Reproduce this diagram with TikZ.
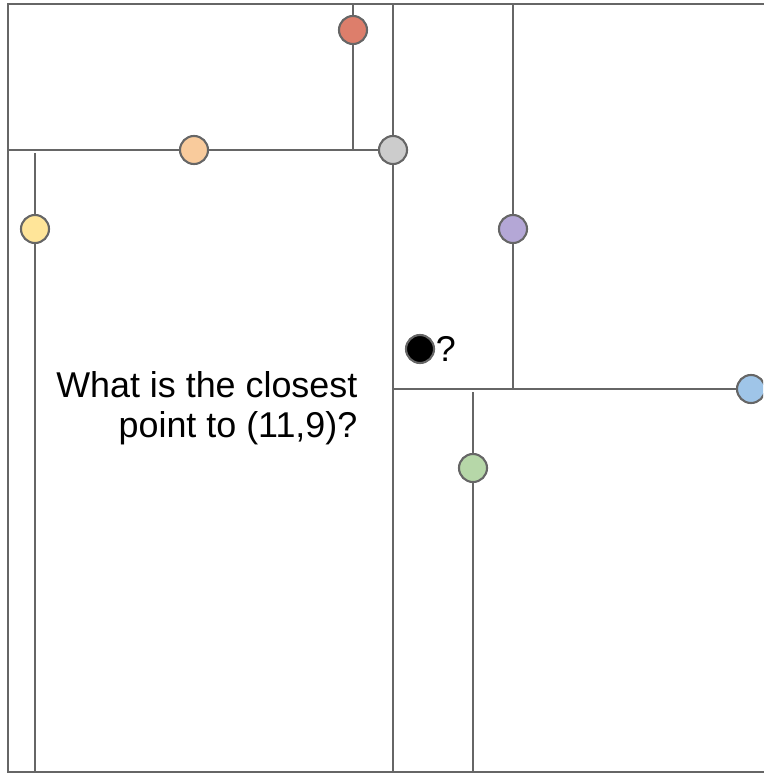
\documentclass[tikz,border=0pt]{standalone}
\usepackage{fontspec}
\setmainfont{Liberation Sans}
\usetikzlibrary{positioning,calc,backgrounds}

\definecolor{edge}{HTML}{666666}
\definecolor{ptred}{HTML}{DD7E6B}
\definecolor{ptorange}{HTML}{F9CB9C}
\definecolor{ptyellow}{HTML}{FFE599}
\definecolor{ptgray}{HTML}{CCCCCC}
\definecolor{ptpurple}{HTML}{B4A7D6}
\definecolor{ptblue}{HTML}{9FC5E8}
\definecolor{ptgreen}{HTML}{B6D7A8}

\begin{document}
\begin{tikzpicture}[
    x=.01cm, y=-.01cm,
    split/.style={draw=edge, line width=.6pt},
    pt/.style={circle, draw=edge, line width=.6pt, minimum size=.28cm,
        inner sep=0},
    label/.style={font=\fontsize{10.2}{11.4}\selectfont, inner sep=0},
]
    \clip (0, 0) rectangle (763, 773);

    %% the points of the tree, and the query point
    \node[pt, fill=ptgray] (gray) at (393, 150) {};
    \node[pt, fill=ptorange] (orange) at (194, 150) {};
    \node[pt, fill=ptred] (red) at (353, 30) {};
    \node[pt, fill=ptyellow] (yellow) at (35, 229) {};
    \node[pt, fill=ptpurple] (purple) at (513, 229) {};
    \node[pt, fill=ptblue] (blue) at (751, 389) {};
    \node[pt, fill=ptgreen] (green) at (473, 468) {};
    \node[pt, fill=black] (query) at (420, 349) {};
    \node[label, anchor=west, right=0pt of query] (mark) {?};

    \node[label, align=right, anchor=north east] (question) at (358, 371)
        {What is the closest\\point to (11,9)?};

    %% the box and the splitting lines, under the points
    \coordinate (tl) at (8, 4);
    \coordinate (br) at (775, 772);
    \begin{scope}[on background layer]
        \draw[split] (tl) rectangle (br);
        \draw[split] (gray |- tl) -- (gray |- br);
        \draw[split] (tl |- gray) -- (gray);
        \draw[split] (red |- tl) -- (red |- gray);
        \draw[split] ($(yellow |- gray) + (0, 3)$) -- (yellow |- br);
        \draw[split] (purple |- tl) -- (purple |- blue);
        \draw[split] (gray |- blue) -- (blue);
        \draw[split] ($(green |- blue) + (0, 3)$) -- (green |- br);
    \end{scope}
\end{tikzpicture}
\end{document}
